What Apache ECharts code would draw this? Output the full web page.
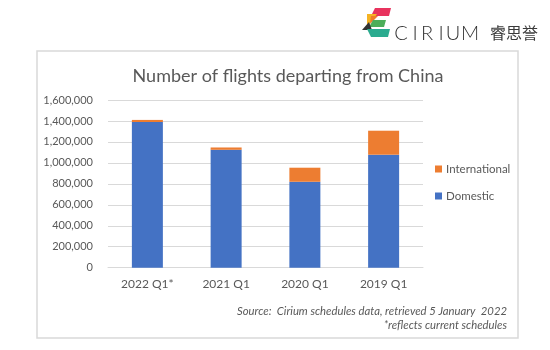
<!DOCTYPE html>
<html>
<head>
<meta charset="utf-8">
<script src="https://cdn.jsdelivr.net/npm/echarts@6/dist/echarts.min.js"></script>
<style>html,body{margin:0;padding:0;background:#fff;}#c{width:550px;height:350px;}</style>
</head>
<body>
<div id="c"></div>
<script>
var categories = ['2022 Q1*', '2021 Q1', '2020 Q1', '2019 Q1'];
var domestic = [1390000, 1125000, 820000, 1078000];
var international = [20000, 22000, 134000, 229000];
var yTicks = { min: 0, max: 1600000, interval: 200000 };

var font = 'Lato, "Open Sans", sans-serif';
var logoLetters = ['C', 'I', 'R', 'I', 'U', 'M'];
var logoX = [401, 415, 427, 441, 453, 470];
var logoGraphics = logoLetters.map(function (ch, i) {
  return { type: 'text', style: { text: ch, x: logoX[i], y: 34, align: 'center', verticalAlign: 'middle', font: '300 20px ' + font, fill: '#333333' } };
});

var chart = echarts.init(document.getElementById('c'), null, { renderer: 'canvas' });
chart.setOption({
  animation: false,
  backgroundColor: '#fff',
  title: {
    text: 'Number of flights departing from China',
    left: 283, top: 62, textAlign: 'center',
    textStyle: { fontFamily: font, fontSize: 18, fontWeight: 'normal', color: '#595959' }
  },
  grid: { left: 108, right: 127, top: 100, bottom: 82.3 },
  legend: {
    orient: 'vertical', left: 430, top: 158,
    data: ['International', 'Domestic'],
    itemWidth: 7, itemHeight: 7, itemGap: 15, icon: 'rect',
    textStyle: { fontFamily: font, fontSize: 11.5, color: '#595959', padding: [0, 0, 0, -1] }
  },
  xAxis: {
    type: 'category', data: categories,
    axisLine: { lineStyle: { color: '#d9d9d9' } },
    axisTick: { show: false },
    axisLabel: { fontFamily: font, fontSize: 12, color: '#595959', margin: 10 }
  },
  yAxis: {
    type: 'value', min: yTicks.min, max: yTicks.max, interval: yTicks.interval,
    axisLine: { show: false }, axisTick: { show: false },
    splitLine: { lineStyle: { color: '#d9d9d9' } },
    axisLabel: {
      fontFamily: font, fontSize: 11, color: '#595959', margin: 15,
      formatter: function (v) { return v.toLocaleString('en-US'); }
    }
  },
  series: [
    { name: 'Domestic', type: 'bar', stack: 't', data: domestic, barWidth: 31, itemStyle: { color: '#4472c4' } },
    { name: 'International', type: 'bar', stack: 't', data: international, barWidth: 31, itemStyle: { color: '#ed7d31' } }
  ],
  graphic: [
    { type: 'rect', shape: { x: 37, y: 51, width: 481, height: 287 }, style: { fill: 'none', stroke: '#d9d9d9', lineWidth: 1.5 }, z: -1 },
    { type: 'text', style: { text: 'Source:  Cirium schedules data, retrieved 5 January  2022', x: 507, y: 311, align: 'right', verticalAlign: 'middle', font: 'italic 11.3px ' + font, fill: '#595959' } },
    { type: 'text', style: { text: '*reflects current schedules', x: 507, y: 325, align: 'right', verticalAlign: 'middle', font: 'italic 11.3px ' + font, fill: '#595959' } },
    { type: 'polygon', shape: { points: [[375, 8], [391, 8], [389, 16], [371, 16]] }, style: { fill: '#e8335e' } },
    { type: 'polygon', shape: { points: [[367, 14], [377, 14], [367, 27]] }, style: { fill: '#f5b324' } },
    { type: 'polygon', shape: { points: [[371, 16], [378, 16], [370, 24]] }, style: { fill: '#ef7d2c' } },
    { type: 'polygon', shape: { points: [[373, 20], [386, 20], [384, 27], [369, 27]] }, style: { fill: '#4cae5a' } },
    { type: 'polygon', shape: { points: [[362, 30], [369, 22], [372, 30]] }, style: { fill: '#333333' } },
    { type: 'polygon', shape: { points: [[367, 29], [390, 29], [388, 37], [371, 37]] }, style: { fill: '#2bab8f' } },
    { type: 'text', style: { text: '睿思誉', x: 490, y: 33, verticalAlign: 'middle', font: '16px "Noto Sans CJK SC"', fill: '#3a3a3a' } }
  ].concat(logoGraphics)
});
</script>
</body>
</html>
